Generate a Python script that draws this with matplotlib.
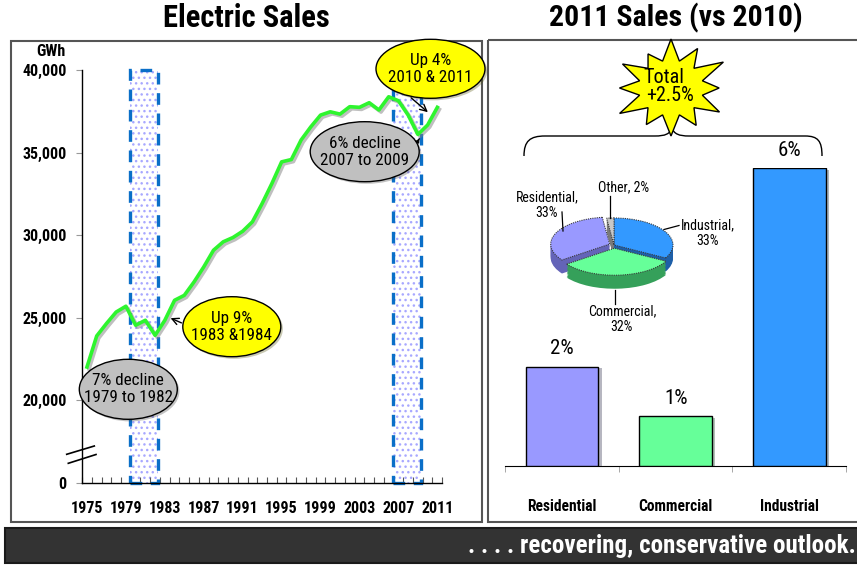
import matplotlib
matplotlib.use('Agg')
import matplotlib.pyplot as plt
import matplotlib.patheffects as pe
from matplotlib import font_manager
from matplotlib.patches import Ellipse, Rectangle, Polygon, PathPatch
from matplotlib.path import Path
import numpy as np

# --- data ---
years = list(range(1975, 2012))
sales = [22020, 23900, 24650, 25350, 25700, 24550, 24850, 23940, 24850, 26060,
         26360, 27170, 28080, 29090, 29600, 29860, 30240, 30810, 31920, 33130,
         34440, 34580, 35760, 36560, 37270, 37470, 37330, 37780, 37740, 38020,
         37580, 38380, 38140, 37270, 36100, 36670, 37740]
recessions = [(1979.4, 1982.3), (2006.4, 2009.3)]
year_ticks = list(range(1975, 2012, 4))
gwh_ticks = [15000, 20000, 25000, 30000, 35000, 40000]
gwh_labels = ['0', '20,000', '25,000', '30,000', '35,000', '40,000']

classes = ['Residential', 'Commercial', 'Industrial']
growth = [2, 1, 6]
bar_colors = ['#9999FF', '#66FF99', '#3399FF']

pie_names = ['Industrial', 'Commercial', 'Residential', 'Other']
pie_share = [33, 32, 33, 2]
pie_colors = ['#3399FF', '#66FF99', '#9999FF', '#C8C8C8']
pie_dark = ['#1E5FA8', '#35A05A', '#6464B8', '#7A7A7A']
pie_explode = [0, 0.12, 0.08, 0]

W, H = 857, 566

# pick a narrow sans if there is one
fl = font_manager.fontManager.ttflist
names = {f.name for f in fl}
family = 'DejaVu Sans'
for cand in ['Liberation Sans Narrow', 'Arial Narrow', 'Roboto Condensed',
             'Open Sans Condensed', 'DejaVu Sans Condensed']:
    if cand in names:
        family = cand
        break
else:
    if any(f.name == 'DejaVu Sans' and f.stretch == 'condensed' for f in fl):
        plt.rcParams['font.stretch'] = 'condensed'
plt.rcParams['font.family'] = [family, 'DejaVu Sans']
plt.rcParams['hatch.linewidth'] = 1.0


def box(l, t, r, b):
    return [l / W, 1 - b / H, (r - l) / W, (b - t) / H]


fig = plt.figure(figsize=(W / 100, H / 100), dpi=100)
fig.patch.set_facecolor('white')

# ---------------- left chart ----------------
ax = fig.add_axes(box(82.1, 70, 442.2, 483))
ax.set_facecolor('none')
ax.set_xlim(1974.5, 2011.5)
ax.set_ylim(15000, 40000)
for a, b in recessions:
    ax.add_patch(Rectangle((a, 15000), b - a, 25000, facecolor='white',
                           edgecolor='#A8A8FF', hatch='...', linewidth=0, zorder=1))
    ax.add_patch(Rectangle((a, 15000), b - a, 25000, facecolor='none',
                           edgecolor='#0A6FC8', linewidth=2.4,
                           linestyle=(0, (3.5, 2.6)), zorder=2, clip_on=False))
ax.plot(years, sales, color='#2EF52E', linewidth=2.6, zorder=4,
        path_effects=[pe.SimpleLineShadow(offset=(1.5, -1.5), shadow_color='gray', alpha=0.5),
                      pe.Normal()])
for s in ['top', 'right']:
    ax.spines[s].set_visible(False)
ax.spines['left'].set_linewidth(1)
ax.spines['bottom'].set_linewidth(1)
ax.set_xticks(year_ticks)
ax.set_xticks(np.arange(1974.5, 2012, 1), minor=True)
ax.tick_params(axis='x', which='major', length=0, pad=13, labelsize=11.5)
ax.tick_params(axis='x', which='minor', direction='in', length=4, width=0.8, color='#555555')
ax.set_yticks(gwh_ticks)
ax.set_yticklabels(gwh_labels)
ax.tick_params(axis='y', length=4, width=0.8, color='#999999', pad=7, labelsize=11.5)
for t in ax.get_xticklabels() + ax.get_yticklabels():
    t.set_fontweight('bold')

# ---------------- bar chart ----------------
bx = fig.add_axes(box(505.3, 168.3, 846, 466))
bx.set_facecolor('none')
xpos = np.arange(len(classes))
bars = bx.bar(xpos, growth, width=0.64, color=bar_colors, edgecolor='black', linewidth=1,
              zorder=3)
for r in bars:
    r.set_path_effects([pe.SimplePatchShadow(offset=(2.5, -1), alpha=0.35), pe.Normal()])
for x, v in zip(xpos, growth):
    bx.annotate(f'{v}%', (x, v), xytext=(0, 6), textcoords='offset points',
                ha='center', va='bottom', fontsize=15)
bx.set_xlim(-0.5, 2.5)
bx.set_ylim(0, 6)
for s in ['top', 'right', 'left']:
    bx.spines[s].set_visible(False)
bx.set_yticks([])
bx.set_xticks(xpos)
bx.set_xticklabels(classes, fontweight='bold', fontsize=11.2)
bx.set_xticks([-0.5, 0.5, 1.5, 2.5], minor=True)
bx.tick_params(axis='x', which='major', length=0, pad=24)
bx.tick_params(axis='x', which='minor', length=4, color='#999999')

# ---------------- 3D-ish pie ----------------
px = fig.add_axes(box(546, 210, 682, 300))
for d in np.linspace(0.5, 0.05, 10):
    px.pie(pie_share, colors=pie_dark, startangle=90, counterclock=False,
           explode=pie_explode, center=(0, -d), wedgeprops=dict(linewidth=0))
px.pie(pie_share, colors=pie_colors, startangle=90, counterclock=False,
       explode=pie_explode, wedgeprops=dict(linewidth=0.8, edgecolor='#3A3A3A',
                                             linestyle=(0, (1, 1))))
px.set_aspect('auto')
px.set_xlim(-1.153, 1.153)
px.set_ylim(-2.037, 1.296)
px.axis('off')

# ---------------- overlay: frames, titles, callouts ----------------
ov = fig.add_axes([0, 0, 1, 1], zorder=10)
ov.set_xlim(0, W)
ov.set_ylim(H, 0)
ov.axis('off')
ov.patch.set_alpha(0)

ov.add_patch(Rectangle((10.7, 40.7), 471, 481, facecolor='none', edgecolor='#555555', lw=1.5))
ov.add_patch(Rectangle((487.7, 40), 380, 481.7, facecolor='none', edgecolor='#555555', lw=1.5))
ov.add_patch(Rectangle((5, 528), 860, 35, facecolor='#333333', edgecolor='#1A1A1A', lw=1.5))
ov.text(856, 546, '. . . . recovering, conservative outlook.', color='white', fontsize=18,
        fontweight='bold', ha='right', va='center')
ov.text(246, 18, 'Electric Sales', fontsize=22, fontweight='bold', ha='center', va='center')
ov.text(676, 18, '2011 Sales (vs 2010)', fontsize=21.5, fontweight='bold', ha='center',
        va='center')
ov.text(51, 52, 'GWh', fontsize=11.5, fontweight='bold', ha='center', va='center')

# axis break marks
ov.plot([66.7, 94.3], [454.3, 446], color='black', lw=1.2)
ov.plot([68.3, 96], [463.3, 454.5], color='black', lw=1.2)

callouts = [
    (128.3, 389.3, 98, 60, '#C0C0C0', '7% decline\n1979 to 1982'),
    (231.8, 326.7, 98, 60, '#FFFF00', 'Up 9%\n1983 &1984'),
    (364.7, 151.7, 109, 60, '#C0C0C0', '6% decline\n2007 to 2009'),
    (430.5, 68.8, 109, 59, '#FFFF00', 'Up 4%\n2010 & 2011'),
]
for cx, cy, w, h, fc, txt in callouts:
    ov.add_patch(Ellipse((cx, cy), w, h, facecolor=fc, edgecolor='black', lw=1,
                         path_effects=[pe.SimplePatchShadow(offset=(1.5, -1.5), alpha=0.3),
                                       pe.Normal()]))
    ov.text(cx, cy, txt, ha='center', va='center', fontsize=12.3, linespacing=1.2)
arrow = dict(arrowstyle='->', color='black', lw=1, mutation_scale=12)
ov.annotate('', xy=(168, 317), xytext=(184, 324), arrowprops=arrow)
ov.annotate('', xy=(430, 114), xytext=(409, 96), arrowprops=arrow)
ov.annotate('', xy=(421, 136), xytext=(418, 141), arrowprops=dict(arrowstyle='-|>', color='black',
                                                                   lw=0.8, mutation_scale=6))

# pie labels
pie_lab = [
    (547, 205, 'Residential,\n33%', [(562, 212), (563, 231)]),
    (624, 187, 'Other, 2%', [(610.5, 196), (610.5, 218)]),
    (708, 233, 'Industrial,\n33%', [(679, 225.5), (664, 229.5)]),
    (622, 319, 'Commercial,\n32%', [(615.5, 290), (615.5, 304)]),
]
for x, y, txt, line in pie_lab:
    ov.text(x, y, txt, ha='center', va='center', fontsize=10, linespacing=1.2)
    ov.plot([line[0][0], line[1][0]], [line[0][1], line[1][1]], color='black', lw=0.9)

# brace over the bars
verts = [(524, 156), (524, 141), (530, 136), (545, 136), (655, 136),
         (665, 136), (670, 134), (672, 128), (674, 134), (679, 136), (689, 136),
         (805, 136), (818, 136), (822, 141), (822, 156)]
codes = [Path.MOVETO, Path.CURVE4, Path.CURVE4, Path.CURVE4, Path.LINETO,
         Path.CURVE4, Path.CURVE4, Path.CURVE4, Path.CURVE4, Path.CURVE4, Path.CURVE4,
         Path.LINETO, Path.CURVE4, Path.CURVE4, Path.CURVE4]
ov.add_patch(PathPatch(Path(verts, codes), facecolor='none', edgecolor='black', lw=1))

# starburst
n = 12
outer = [1.0, 0.88, 1.06, 0.92, 1.0, 0.82, 1.02, 0.95, 1.08, 0.86, 1.0, 0.9]
ang = np.deg2rad(90 + np.arange(2 * n) * 180 / n)
rad = np.array([outer[i // 2] if i % 2 == 0 else 0.58 for i in range(2 * n)])
star = np.column_stack([671 + 56 * rad * np.cos(ang), 88 + 48 * rad * np.sin(ang)])
ov.add_patch(Polygon(star, closed=True, facecolor='#FFFF00', edgecolor='black', lw=1, zorder=5))
ov.text(664, 83, 'Total', ha='center', va='baseline', fontsize=14.5, zorder=6)
ov.text(670, 101, '+2.5%', ha='center', va='baseline', fontsize=14.5, zorder=6)

fig.savefig('out.png', dpi=100)
